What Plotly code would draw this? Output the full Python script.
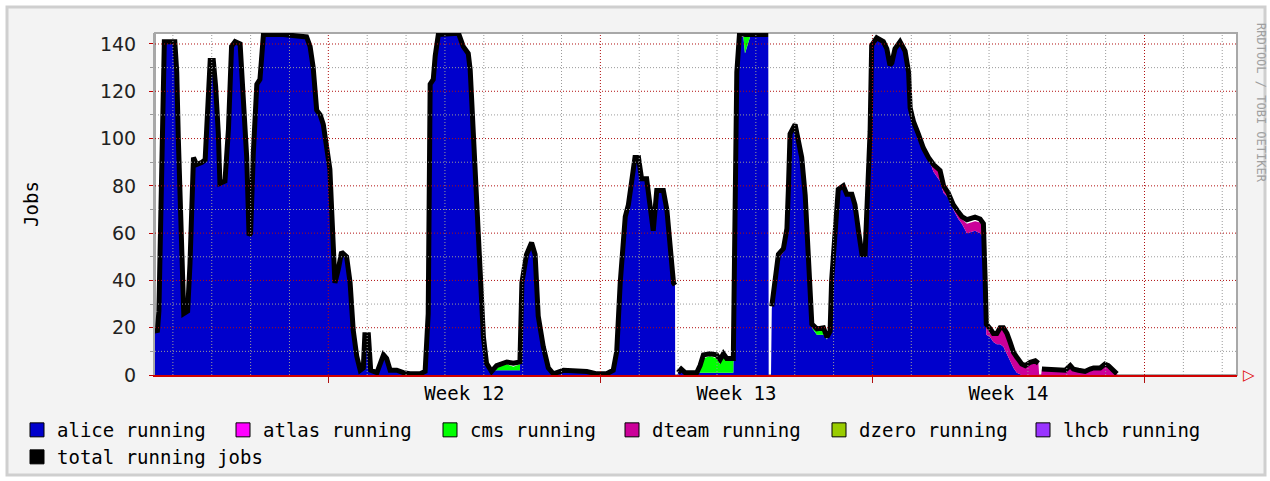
import plotly.graph_objects as go

# ---------------- data (time in days relative to start of Week 12) ----------------
days = [
    -4.46, -4.40, -4.36, -4.32, -4.27, -4.22, -3.95, -3.90, -3.86, -3.82,
    -3.77, -3.72, -3.62, -3.56, -3.47, -3.39, -3.25, -3.17, -3.13, -3.04,
    -2.96, -2.90, -2.83, -2.79, -2.66, -2.57, -2.49, -2.40, -2.27, -2.20,
    -2.10, -2.04, -2.00, -1.93, -1.84, -1.76, -1.67, -1.16, -0.56, -0.47,
    -0.39, -0.30, -0.21, -0.13, -0.04, 0.04, 0.09, 0.13, 0.17, 0.26,
    0.34, 0.47, 0.56, 0.64, 0.73, 0.82, 0.90, 0.94, 1.03, 1.09,
    1.25, 1.42, 1.50, 1.59, 1.76, 1.93, 2.10, 2.36, 2.49, 2.57,
    2.62, 2.70, 2.75, 2.83, 3.09, 3.35, 3.47, 3.60, 3.65, 3.73,
    3.82, 3.90, 3.99, 4.07, 4.20, 4.33, 4.59, 4.76, 4.93, 4.98,
    5.10, 5.23, 5.32, 5.40, 5.53, 5.66, 5.79, 6.05, 6.30, 6.65,
    6.91, 7.16, 7.33, 7.42, 7.51, 7.64, 7.72, 7.81, 7.89, 7.98,
    8.06, 8.19, 8.28, 8.36, 8.45, 8.62, 8.71, 8.79, 8.88, 8.92,
    8.925, 8.98, 9.00, 9.08, 9.18, 9.31, 9.48, 9.565, 9.65, 9.82,
    9.99, 10.08, 10.165, 10.25, 10.42, 10.47, 10.51, 10.58, 10.68, 10.72,
    10.80, 10.85, 11.28, 11.32, 11.33, 11.39, 11.41, 11.50, 11.58, 11.71,
    11.80, 11.84, 11.88, 12.01, 12.09, 12.18, 12.27, 12.35, 12.44, 12.57,
    12.74, 12.83, 12.91, 12.95, 13.04, 13.12, 13.25, 13.34, 13.47, 13.55,
    13.64, 13.73, 13.81, 13.855, 13.94, 13.98, 14.11, 14.28, 14.37, 14.45,
    14.50, 14.58, 14.71, 14.84, 14.93, 14.97, 15.06, 15.18, 15.31, 15.44,
    15.57, 15.74, 15.83, 15.95, 16.08, 16.21, 16.30, 16.43, 16.64, 16.77,
    16.855, 16.90, 16.93, 17.03, 17.11, 17.20, 17.285, 17.37, 17.46, 17.54,
    17.63, 17.715, 17.84, 17.93, 18.06, 18.19, 18.27, 18.29, 18.34, 18.36,
    18.40, 18.57, 18.74, 18.83, 18.96, 19.09, 19.17, 19.30, 19.47, 19.60,
    19.69, 19.86, 19.98, 20.07, 20.20, 20.29, 20.31, 23.38,
]

total_running = [
    20, 18, 27, 66, 104, 141, 141, 128, 100, 73,
    40, 26, 27, 47, 92, 89, 90, 91, 104, 133,
    133, 122, 102, 81, 82, 104, 139, 141, 140, 118,
    92, 59, 60, 94, 123, 125, 144, 144, 143, 139,
    130, 112, 110, 106, 97, 87, 68, 50, 39, 45,
    52, 50, 39, 19, 8, 2, 3, 17, 17, 2,
    1, 8.5, 7, 2, 2, 1, 0.5, 0.5, 1.5, 26,
    123, 125, 135, 144, 144.5, 144.5, 139, 136, 129, 104,
    75, 47, 16, 5, 1.5, 4, 5.5, 5, 5.5, 39,
    51, 56, 51, 25, 12, 3, 0.5, 2, 2, 1.5,
    0.5, 0.5, 2, 10, 39, 67, 72, 81, 92, 92,
    83, 83, 73, 61, 78, 78, 70, 54.5, 39, 38,
    None, None, 1, 2.5, 1, 1, 1, 4, 8.5, 9,
    8.5, 6.5, 9, 7, 7, 75, 128, 144.5, 144, 144,
    144, 144, 144, 144, None, None, 29, 39, 51, 53.5,
    62, 80, 102, 106, 99, 92, 76, 47, 21.5, 19.5,
    20, 16, 18.5, 40, 61.5, 78.5, 80, 76.5, 76.5, 72,
    61, 51, 51, 72, 103, 139.5, 142.6, 141, 138, 131,
    132, 138, 141, 137, 128, 113, 107, 102, 96, 92,
    89, 86.5, 80, 77, 72, 69, 67, 65.7, 66.8, 66,
    64, 40, 21.5, 19.6, 17.6, 17.6, 20, 20, 17.6, 14,
    9.6, 7.5, 4.7, 4, 5.4, 6, 5, None, None, 2.5,
    2.5, 2, 2, 2.5, 2, 4, 2.5, 2, 1.5, 2.5,
    3, 3, 4.6, 4, 2, 0.5, None, None,
]

alice_running = [
    20, 18, 27, 66, 104, 141, 141, 128, 100, 73,
    40, 26, 27, 47, 92, 89, 90, 91, 104, 133,
    133, 122, 102, 81, 82, 104, 139, 141, 140, 118,
    92, 59, 60, 94, 123, 125, 144, 144, 143, 139,
    130, 112, 110, 106, 97, 87, 68, 50, 39, 45,
    52, 50, 39, 19, 8, 2, 3, 16, 16, 2,
    1, 7.5, 6, 2, 2, 1, 0.5, 0.5, 1.5, 26,
    123, 125, 135, 144, 144.5, 144.5, 139, 136, 129, 104,
    75, 47, 16, 5, 1.5, 2, 2, 2, 2, 39,
    51, 56, 51, 25, 12, 3, 0.5, 1, 1, 1.5,
    0.5, 0.5, 2, 10, 39, 67, 72, 81, 92, 92,
    83, 83, 73, 61, 78, 78, 70, 54.5, 39, 38,
    0, 0, 1, 1.5, 1, 1, 1, 1, 1, 1,
    1, 1, 1, 1, 1, 75, 128, 143, 143, 136,
    140, 143, 143, 143, 0, 0, 28, 38, 49, 52,
    62, 80, 102, 106, 99, 92, 76, 47, 20, 17,
    17, 15, 18.5, 40, 61.5, 78.5, 80, 76.5, 76.5, 72,
    61, 51, 51, 72, 103, 139.5, 142.6, 141, 138, 131,
    132, 138, 141, 137, 128, 113, 107, 102, 96, 92,
    86, 82, 77, 75, 70, 66, 64, 60, 61, 60,
    58, 35, 17, 16, 14, 13, 13, 12, 9, 6,
    3, 1, 0, 0, 0, 0, 0, 0, 0, 0,
    0, 0, 0, 0, 0, 0, 0, 0, 0, 0,
    0, 0, 0, 0, 0, 0, 0, 0,
]

atlas_days = [0.90, 0.94, 1.03, 1.09, 1.25, 1.42, 1.50, 1.59,
              5.79, 6.05, 6.30, 6.65, 9.00, 9.08, 9.18]
atlas_running = [0, 1, 1, 0, 0, 1, 1, 0, 0, 1, 1, 0, 0, 1, 0]

cms_days = [4.20, 4.33, 4.59, 4.76, 4.93, 4.98,
            9.48, 9.565, 9.65, 9.82, 9.99, 10.08, 10.165, 10.25, 10.42, 10.47,
            10.68, 10.72, 10.80, 10.85, 12.44, 12.57, 12.74, 12.83]
cms_running = [0, 2, 2.5, 1.5, 2.5, 0,
               0, 2, 6, 7, 6, 3.5, 7, 5.5, 5.5, 0,
               0, 7, 3, 0, 0, 2, 2, 0]

dteam_days = [11.50, 11.58, 11.71,
              15.44, 15.57, 15.74, 15.83, 15.95, 16.08, 16.21, 16.30, 16.43, 16.64,
              16.77, 16.855, 16.90, 16.93, 17.03, 17.11, 17.20, 17.285, 17.37, 17.46,
              17.54, 17.63, 17.715, 17.84, 17.93, 18.06, 18.19, 18.27, 18.29, 18.34,
              18.36, 18.40, 18.57, 18.74, 18.83, 18.96, 19.09, 19.17, 19.30, 19.47,
              19.60, 19.69, 19.86, 19.98, 20.07, 20.20, 20.29, 20.31]
dteam_running = [0, 1.5, 0,
                 0, 2, 3.5, 2, 1, 0.5, 2, 2, 4, 4,
                 4.5, 4, 3, 3, 2, 3, 4, 6, 7, 7,
                 7, 6, 5.5, 4.5, 4, 5.4, 6, 5, 0, 0,
                 2.5, 2.5, 2, 2, 2.5, 2, 4, 2.5, 2, 1.5,
                 2.5, 3, 3, 4.6, 4, 2, 0.5, 0]

series_names = ["alice running", "atlas running", "cms running",
                "dteam running", "dzero running", "lhcb running"]
series_colors = ["#0000CC", "#FF00FF", "#00FF00", "#CC0099", "#99CC00", "#9933FF"]
total_name = "total running jobs"

week_labels = ["Week 12", "Week 13", "Week 14"]
week_label_pos = [3.5, 10.5, 17.5]
week_starts = [0, 7, 14, 21]
day_ticks = list(range(-4, 24))
y_major = [0, 20, 40, 60, 80, 100, 120, 140]
y_minor = [10, 30, 50, 70, 90, 110, 130]
x_range = [-4.46, 23.38]
y_range = [0, 144.65]

assert len(days) == len(total_running) == len(alice_running), (len(days), len(total_running), len(alice_running))
assert len(atlas_days) == len(atlas_running)
assert len(cms_days) == len(cms_running)
assert len(dteam_days) == len(dteam_running)

# ---------------- layout geometry (window pixels) ----------------
W, H = 1270, 481
PLOT_L, PLOT_R, PLOT_T, PLOT_B = 155, 1237, 33, 375
ML, MR, MT, MB = PLOT_L, W - PLOT_R, PLOT_T, H - PLOT_B
PW, PH = PLOT_R - PLOT_L, PLOT_B - PLOT_T


def px_x(p):
    return (p - PLOT_L) / PW


def px_y(p):
    return (PLOT_B - p) / PH


fig = go.Figure()

stack = [
    (days, alice_running, 0),
    (atlas_days, atlas_running, 1),
    (cms_days, cms_running, 2),
    (dteam_days, dteam_running, 3),
]
for xs, ys, i in stack:
    fig.add_trace(go.Scatter(
        x=xs, y=ys, mode="lines", stackgroup="jobs",
        line=dict(width=0, color=series_colors[i]),
        fillcolor=series_colors[i], name=series_names[i],
        showlegend=False, hoverinfo="skip",
    ))

fig.add_trace(go.Scatter(
    x=days, y=total_running, mode="lines", name=total_name,
    line=dict(color="#000000", width=5), connectgaps=False,
    showlegend=False, hoverinfo="skip",
))

# legend entries (squares with black border)
legend_left = [30, 236, 443, 625, 832, 1036]
legend_keys = ["legend", "legend2", "legend3", "legend4", "legend5", "legend6", "legend7"]
for i, name in enumerate(series_names):
    fig.add_trace(go.Scatter(
        x=[None], y=[None], mode="markers", name=name, legend=legend_keys[i],
        marker=dict(symbol="square", size=14, color=series_colors[i],
                    line=dict(color="#000000", width=1)),
    ))
fig.add_trace(go.Scatter(
    x=[None], y=[None], mode="markers", name=total_name, legend=legend_keys[6],
    marker=dict(symbol="square", size=14, color="#000000",
                line=dict(color="#000000", width=1)),
))

legend_font = dict(family="DejaVu Sans Mono", size=19, color="#000000")
legends = {}
for i, key in enumerate(legend_keys):
    if i < 6:
        lx, ly = legend_left[i], 430
    else:
        lx, ly = 30, 457
    legends[key] = dict(
        x=px_x(lx - 13), y=px_y(ly), xanchor="left", yanchor="middle",
        orientation="h", font=legend_font, bgcolor="rgba(0,0,0,0)",
        borderwidth=0, itemclick=False, itemdoubleclick=False,
    )

# ---------------- shapes: frame, plot background, grid (grid drawn above data) ----------------
shapes = [
    dict(type="rect", xref="paper", yref="paper", layer="below",
         x0=px_x(7), x1=px_x(1265), y0=px_y(475), y1=px_y(7),
         fillcolor="#F3F3F3", line=dict(color="#CFCFCF", width=3)),
    dict(type="rect", xref="paper", yref="paper", layer="below",
         x0=0, x1=1, y0=0, y1=1, fillcolor="#FFFFFF",
         line=dict(color="#A8A8A8", width=2)),
]
grey_grid = dict(color="#9A9A9A", width=1, dash="1px,2px")
red_grid = dict(color="#B01010", width=1, dash="1px,2px")
for d in day_ticks:
    if d in week_starts:
        continue
    shapes.append(dict(type="line", xref="x", yref="paper", layer="above",
                       x0=d, x1=d, y0=0, y1=1, line=grey_grid))
for v in y_minor:
    shapes.append(dict(type="line", xref="paper", yref="y", layer="above",
                       x0=0, x1=1, y0=v, y1=v, line=grey_grid))
for v in y_major[1:]:
    shapes.append(dict(type="line", xref="paper", yref="y", layer="above",
                       x0=0, x1=1, y0=v, y1=v, line=red_grid))
for d in week_starts:
    shapes.append(dict(type="line", xref="x", yref="paper", layer="above",
                       x0=d, x1=d, y0=0, y1=1, line=red_grid))

annotations = [
    dict(text="RRDTOOL / TOBI OETIKER", textangle=90, showarrow=False,
         xref="paper", yref="paper", x=px_x(1261), y=px_y(103),
         xanchor="center", yanchor="middle",
         font=dict(family="DejaVu Sans Mono", size=12, color="#A0A0A0")),
    dict(text="▷", showarrow=False, xref="paper", yref="paper",
         x=px_x(1249), y=px_y(375), xanchor="center", yanchor="middle",
         font=dict(family="DejaVu Sans", size=15, color="#E00000")),
]

fig.update_layout(
    width=W, height=H,
    margin=dict(l=ML, r=MR, t=MT, b=MB, pad=0, autoexpand=False),
    paper_bgcolor="#FFFFFF", plot_bgcolor="#FFFFFF",
    shapes=shapes, annotations=annotations,
    hovermode=False,
    **legends,
)

fig.update_xaxes(
    range=x_range, tickmode="array", tickvals=week_label_pos, ticktext=week_labels,
    ticks="", showgrid=False, zeroline=False,
    showline=True, linecolor="#D00000", linewidth=1.5, layer="above traces",
    tickfont=dict(family="DejaVu Sans Mono", size=19, color="#000000"),
    minor=dict(tickmode="array", tickvals=week_starts, ticks="outside",
               ticklen=6, tickcolor="#B01010", showgrid=False),
)
fig.update_yaxes(
    range=y_range, tickmode="array", tickvals=y_major,
    ticks="outside", ticklen=4, tickcolor="#C00000",
    showgrid=False, zeroline=False,
    showline=True, linecolor="#A8A8A8", linewidth=2,
    tickfont=dict(family="DejaVu Sans", size=19, color="#222222"),
    ticklabelstandoff=9,
    title=dict(text="Jobs", standoff=56,
               font=dict(family="DejaVu Sans Mono", size=19, color="#000000")),
    minor=dict(tickmode="array", tickvals=y_minor, ticks="outside",
               ticklen=3, tickcolor="#9A9A9A", showgrid=False),
)

fig.write_html("out.html", config={"displayModeBar": False},
               post_script="document.body.style.margin='0px';")
